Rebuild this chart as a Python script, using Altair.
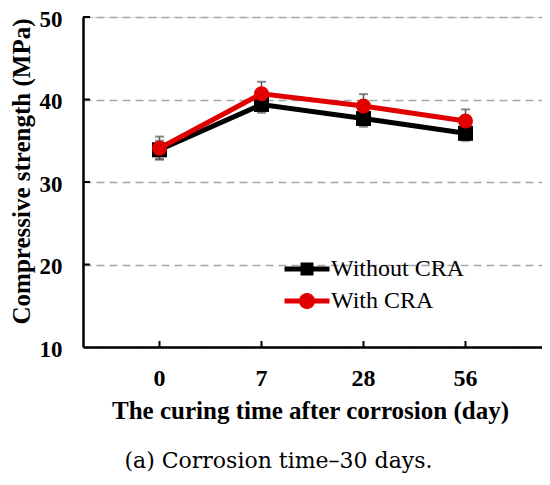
import altair as alt
import pandas as pd

days = ["0", "7", "28", "56"]
without_cra = [33.9, 39.4, 37.7, 35.9]
without_err = [1.1, 1.0, 1.0, 0.9]
with_cra = [34.1, 40.7, 39.2, 37.4]
with_err = [1.4, 1.45, 1.45, 1.4]
series_names = ["Without CRA", "With CRA"]
series_colors = ["#000000", "#e00000"]
y_ticks = [10, 20, 30, 40, 50]

rows = []
for name, vals, errs in [(series_names[0], without_cra, without_err),
                         (series_names[1], with_cra, with_err)]:
    for d, v, e in zip(days, vals, errs):
        rows.append({"day": d, "series": name, "value": v, "lo": v - e, "hi": v + e})
df = pd.DataFrame(rows)
tick_df = pd.DataFrame({"t": y_ticks[1:]})
day_df = pd.DataFrame({"day": days})

W, H = 459, 330
SERIF = "Liberation Serif"

xax = alt.Axis(
    title="The curing time after corrosion (day)", labelAngle=0, labelFont=SERIF,
    labelFontSize=24, labelFontWeight="bold", labelColor="black", labelPadding=19,
    ticks=False, tickSize=0, domainColor="black", domainWidth=2.5, grid=False,
    titleFont=SERIF, titleFontSize=25, titleFontWeight="bold", titleColor="black",
    titleY=71, titleX=227, titleBaseline="alphabetic",
)
yax = alt.Axis(
    title="Compressive strength (MPa)", values=y_ticks, labelFont=SERIF,
    labelFontSize=23, labelFontWeight="bold", labelColor="black", labelPadding=21,
    labelOffset=2,
    ticks=False, tickSize=0, domainColor="black", domainWidth=2.5,
    grid=True, gridDash=[8, 5], gridColor="#a6a6a6", gridWidth=1.5,
    titleFont=SERIF, titleFontSize=25, titleFontWeight="bold", titleColor="black",
    titleX=-54, titleY=154, titleAlign="center", titleBaseline="alphabetic",
)
y_scale = alt.Scale(domain=[10, 50], nice=False, zero=False)
x_enc = alt.X("day:O", sort=days, scale=alt.Scale(padding=0.5), axis=xax)
color_scale = alt.Scale(domain=series_names, range=series_colors)

base = alt.Chart(df)

err_rule = base.mark_rule(color="#555555", strokeWidth=1.5).encode(
    x=x_enc, y=alt.Y("lo:Q", scale=y_scale, axis=yax), y2="hi:Q")
err_cap_hi = base.mark_tick(color="#555555", thickness=2, size=9, orient="horizontal").encode(
    x=x_enc, y=alt.Y("hi:Q", scale=y_scale, axis=yax))
err_cap_lo = base.mark_tick(color="#555555", thickness=2, size=9, orient="horizontal").encode(
    x=x_enc, y=alt.Y("lo:Q", scale=y_scale, axis=yax))

line_enc = dict(
    x=x_enc, y=alt.Y("value:Q", scale=y_scale, axis=yax),
    color=alt.Color("series:N", scale=color_scale, legend=None),
)
line_black = base.transform_filter(alt.datum.series == series_names[0]).mark_line(strokeWidth=5).encode(**line_enc)
pts_black = base.transform_filter(alt.datum.series == series_names[0]).mark_point(
    shape="square", filled=True, size=225, opacity=1).encode(**line_enc)
line_red = base.transform_filter(alt.datum.series == series_names[1]).mark_line(strokeWidth=5).encode(**line_enc)
pts_red = base.transform_filter(alt.datum.series == series_names[1]).mark_point(
    shape="circle", filled=True, size=225, opacity=1).encode(**line_enc)

sq_path = "M-2.25,-0.25H-0.65V-0.65H0.65V-0.25H2.25V0.25H0.65V0.65H-0.65V0.25H-2.25Z"
ci_path = "M-2.25,-0.25H-0.76A0.8,0.8 0 0 1 0.76,-0.25H2.25V0.25H0.76A0.8,0.8 0 0 1 -0.76,0.25H-2.25Z"
leg = alt.Legend(
    title=None, orient="none", legendX=212, legendY=240, padding=0,
    labelFont=SERIF, labelFontSize=24, labelColor="black", labelOffset=12,
    symbolSize=400, symbolStrokeWidth=0, symbolOpacity=1, rowPadding=8,
)
legend_layer = base.mark_point(filled=True, size=400, opacity=0).encode(
    x=x_enc, y=alt.Y("value:Q", scale=y_scale, axis=yax),
    color=alt.Color("series:N", scale=color_scale, legend=leg),
    shape=alt.Shape("series:N", scale=alt.Scale(domain=series_names, range=[sq_path, ci_path]), legend=leg),
)

x_ticks = alt.Chart(day_df).mark_rule(color="black", strokeWidth=2).encode(
    x=x_enc, y=alt.value(H), y2=alt.value(H - 6))
y_tick_marks = alt.Chart(tick_df).mark_rule(color="black", strokeWidth=2).encode(
    y=alt.Y("t:Q", scale=y_scale, axis=yax), x=alt.value(0), x2=alt.value(7))

chart = alt.layer(
    y_tick_marks, x_ticks, err_rule, err_cap_hi, err_cap_lo,
    line_black, pts_black, line_red, pts_red, legend_layer,
).resolve_scale(color="independent", shape="independent").properties(
    width=W, height=H, autosize="none",
    padding={"left": 75, "top": 9, "right": 0, "bottom": 130},
    title=alt.TitleParams(
        text="(a) Corrosion time–30 days.", orient="bottom", anchor="middle",
        font="DejaVu Serif", fontSize=22, fontWeight="normal", color="black",
        offset=28, dx=-34,
    ),
).configure_view(stroke=None).configure(background="white")

chart.save("out.html", embed_options={"renderer": "svg", "actions": False})
